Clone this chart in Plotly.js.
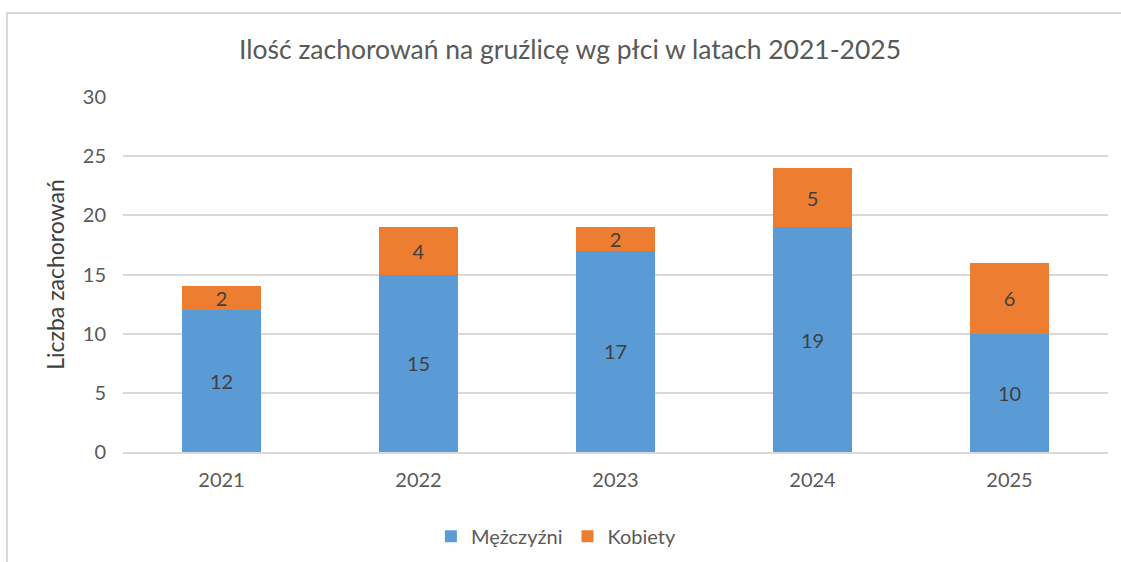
<!DOCTYPE html>
<html><head><meta charset="utf-8">
<script src="https://cdn.plot.ly/plotly-3.0.1.min.js"></script>
<style>
html,body{margin:0;padding:0;background:#fff;overflow:hidden;}
#frame{position:absolute;left:6px;top:12px;width:1130px;height:600px;border:2px solid #d9d9d9;box-sizing:border-box;}
#chart{position:absolute;left:0;top:0;width:1121px;height:562px;}
</style></head>
<body>
<div id="frame"></div>
<div id="chart"></div>
<script>
const years = ['2021','2022','2023','2024','2025'];
const men = [12,15,17,19,10];
const women = [2,4,2,5,6];
const seriesNames = ['Mężczyźni','Kobiety'];
const titleText = 'Ilość zachorowań na gruźlicę wg płci w latach 2021-2025';
const yTitle = 'Liczba zachorowań';

const font = 'Lato, "Open Sans", sans-serif';
const traces = [
  {type:'bar', name:seriesNames[0], x:years, y:men, marker:{color:'#5b9bd5'},
   text:men.map(String), textposition:'inside', insidetextanchor:'middle', textangle:0, constraintext:'none',
   textfont:{family:font,size:20,color:'#404040'}, hoverinfo:'skip'},
  {type:'bar', name:seriesNames[1], x:years, y:women, marker:{color:'#ed7d31'},
   text:women.map(String), textposition:'inside', insidetextanchor:'middle', textangle:0, constraintext:'none',
   textfont:{family:font,size:20,color:'#404040'}, hoverinfo:'skip'}
];
const layout = {
  width:1121, height:562,
  paper_bgcolor:'rgba(0,0,0,0)', plot_bgcolor:'rgba(0,0,0,0)',
  barmode:'stack', bargap:0.594,
  margin:{l:123, r:13, t:97, b:110, autoexpand:false},
  font:{family:font, color:'#595959'},
  title:{text:titleText, font:{family:font,size:26.5,color:'#595959'}, x:570/1121, xref:'container', xanchor:'center', y:1-50/562, yref:'container', yanchor:'middle'},
  xaxis:{type:'category', tickfont:{size:20,color:'#595959'}, showgrid:false, showline:true, linecolor:'#d9d9d9', linewidth:2, ticks:'', ticklabelstandoff:9},
  yaxis:{range:[0,30], dtick:5, tick0:0, tickfont:{size:20,color:'#595959'}, gridcolor:'#d9d9d9', gridwidth:2, zeroline:false, showline:false, ticklabelstandoff:16,
    title:{text:yTitle, font:{size:23,color:'#404040'}, standoff:11}},
  legend:{orientation:'h', x:0.44, xanchor:'center', y:-0.237, yanchor:'middle', font:{size:20,color:'#595959'}, traceorder:'normal', itemwidth:30},
  showlegend:true
};
Plotly.newPlot('chart', traces, layout, {displayModeBar:false, staticPlot:true});
</script>
</body></html>
